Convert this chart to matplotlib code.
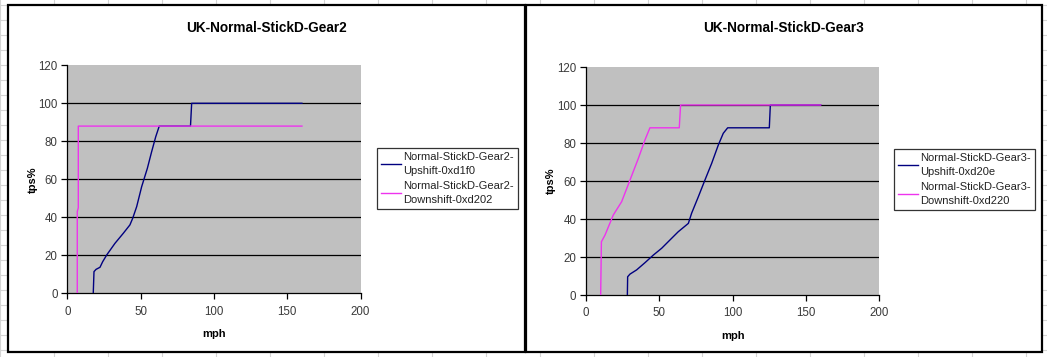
import matplotlib
matplotlib.use("Agg")
import matplotlib.pyplot as plt
from matplotlib.patches import Rectangle
from matplotlib.lines import Line2D

plt.rcParams['font.family'] = ['Liberation Sans', 'DejaVu Sans']

# ---------------- data ----------------
titles = ["UK-Normal-StickD-Gear2", "UK-Normal-StickD-Gear3"]

g2_up_label = "Normal-StickD-Gear2-\nUpshift-0xd1f0"
g2_up_mph = [17.7, 18.2, 19.6, 22.3, 24.1, 26.9, 32.5, 38.2, 42.7, 44.6, 47.3, 50.7,
             54.6, 57.5, 60.3, 62.7, 84.0, 84.8, 160]
g2_up_tps = [0, 11.4, 12.6, 13.7, 16.6, 20.2, 26.3, 31.6, 36.0, 39.5, 45.6, 56.1,
             65.8, 74.5, 82.4, 88, 88, 100, 100]

g2_dn_label = "Normal-StickD-Gear2-\nDownshift-0xd202"
g2_dn_mph = [6.8, 6.8, 7.5, 7.5, 160]
g2_dn_tps = [0, 43, 45, 88, 88]

g3_up_label = "Normal-StickD-Gear3-\nUpshift-0xd20e"
g3_up_mph = [28.2, 28.4, 30.0, 34.5, 40.2, 45.9, 51.6, 57.3, 62.9, 69.8, 72.0, 76.6,
             81.1, 85.7, 90.2, 93.6, 96.6, 125.0, 125.7, 160]
g3_up_tps = [0, 9.6, 11.0, 13.2, 17.0, 21.0, 24.6, 29.0, 33.3, 37.7, 43.0, 51.7,
             60.5, 69.3, 78.9, 85.1, 88, 88, 100, 100]

g3_dn_label = "Normal-StickD-Gear3-\nDownshift-0xd220"
g3_dn_mph = [10.0, 10.5, 13.0, 18.6, 24.3, 30.0, 35.7, 40.2, 43.6, 63.6, 64.5, 160]
g3_dn_tps = [0, 28, 31.6, 42.1, 49.1, 60.5, 71.9, 81.6, 88, 88, 100, 100]

x_ticks = [0, 50, 100, 150, 200]
y_ticks = [0, 20, 40, 60, 80, 100, 120]

NAVY = "#000080"
MAGENTA = "#ee33ee"

# ---------------- figure ----------------
W, H = 1047, 357
fig = plt.figure(figsize=(W / 100, H / 100), dpi=100)
fig.patch.set_facecolor("white")

def fx(px):
    return px / W

def fy(py):
    return 1 - py / H

# spreadsheet grid in background
for gx in range(0, W, 54):
    fig.add_artist(Line2D([fx(gx), fx(gx)], [0, 1], color="#d4d4d4", lw=0.8, zorder=-3))
for gy in range(5, H, 15):
    fig.add_artist(Line2D([0, 1], [fy(gy), fy(gy)], color="#d4d4d4", lw=0.8, zorder=-3))

# chart panels
panels = [(8, 5, 525, 352), (526, 5, 1042, 352)]
for (x0, y0, x1, y1) in panels:
    fig.add_artist(Rectangle((fx(x0), fy(y1)), fx(x1 - x0), (y1 - y0) / H,
                             facecolor="white", edgecolor="black", lw=1.6, zorder=-2))

axes_px = [(67.3, 293.3, 360.6, 65.3), (586.0, 295.0, 879.3, 67.0)]
series = [
    [(g2_up_mph, g2_up_tps, NAVY, g2_up_label), (g2_dn_mph, g2_dn_tps, MAGENTA, g2_dn_label)],
    [(g3_up_mph, g3_up_tps, NAVY, g3_up_label), (g3_dn_mph, g3_dn_tps, MAGENTA, g3_dn_label)],
]
legend_anchor = [(377, 148), (894, 149)]

for i in range(2):
    x0, y0, x1, y1 = axes_px[i]
    ax = fig.add_axes([fx(x0), fy(y0), (x1 - x0) / W, (y0 - y1) / H])
    ax.set_facecolor("#c0c0c0")
    ax.set_xlim(0, 200)
    ax.set_ylim(0, 120)
    ax.set_xticks(x_ticks)
    ax.set_yticks(y_ticks)
    for v in y_ticks[1:-1]:
        ax.axhline(v, color="black", lw=0.9, zorder=1)
    for s in ["top", "right"]:
        ax.spines[s].set_visible(False)
    for s in ["left", "bottom"]:
        ax.spines[s].set_color("black")
        ax.spines[s].set_linewidth(0.9)
    ax.tick_params(axis="both", direction="out", length=4, width=0.9,
                   labelsize=8.3, colors="black", labelcolor="#3a3a3a")
    ax.tick_params(axis="x", pad=5)
    ax.tick_params(axis="y", pad=3)
    handles = []
    for (xs, ys, c, lab) in series[i]:
        h, = ax.plot(xs, ys, color=c, lw=1.0, label=lab, zorder=3)
        handles.append(h)
    ax.set_xlabel("mph", fontsize=8, fontweight="bold", labelpad=8)
    ax.set_ylabel("tps%", fontsize=8, fontweight="bold", labelpad=0.5)
    px0, px1 = panels[i][0], panels[i][2]
    fig.text(fx((px0 + px1) / 2), fy(28), titles[i], ha="center", va="center",
             fontsize=9.8, fontweight="bold")
    lx, ly = legend_anchor[i]
    leg = fig.legend(handles=handles, loc="upper left",
                     bbox_to_anchor=(fx(lx), fy(ly)), fontsize=8,
                     frameon=True, fancybox=False, edgecolor="black",
                     handlelength=1.75, handletextpad=0.2, borderpad=0.4,
                     labelspacing=0.45, borderaxespad=0)
    leg.get_frame().set_linewidth(0.9)
    for t in leg.get_texts():
        t.set_color("#222222")
        t.set_linespacing(1.45)

fig.savefig("out.png", dpi=100)
